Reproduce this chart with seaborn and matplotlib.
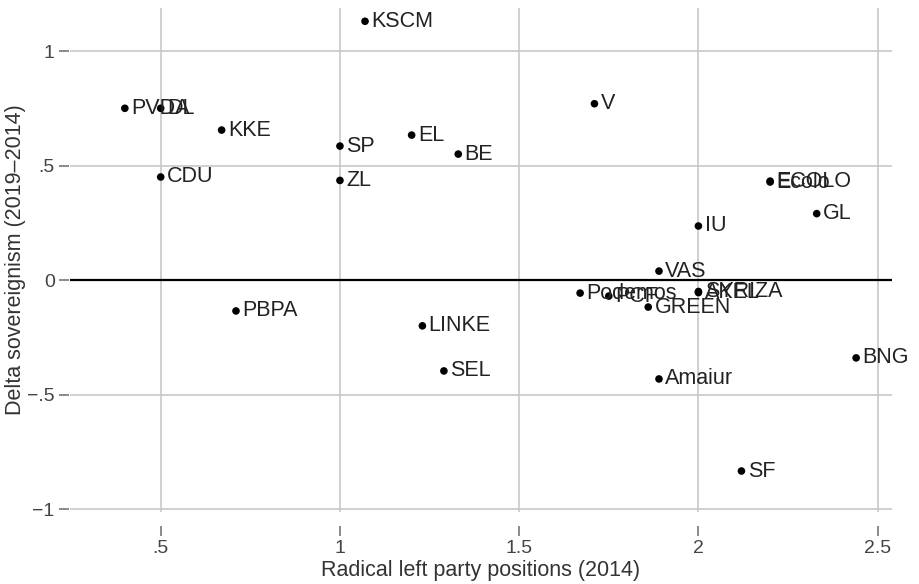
import matplotlib
matplotlib.use("Agg")
import matplotlib.pyplot as plt
import seaborn as sns
import pandas as pd

parties = ["KSCM", "PVDA", "DL", "KKE", "CDU", "SP", "ZL", "EL", "BE", "V",
           "ECOLO", "Ecolo", "GL", "IU", "VAS", "Podemos", "PCF", "GREEN",
           "SYRIZA", "AKEL", "PBPA", "LINKE", "SEL", "Amaiur", "BNG", "SF"]
position = [1.07, 0.40, 0.50, 0.67, 0.50, 1.00, 1.00, 1.20, 1.33, 1.71,
            2.20, 2.20, 2.33, 2.00, 1.89, 1.67, 1.75, 1.86,
            2.00, 2.00, 0.71, 1.23, 1.29, 1.89, 2.44, 2.12]
delta = [1.13, 0.75, 0.75, 0.655, 0.45, 0.585, 0.435, 0.633, 0.55, 0.77,
         0.432, 0.428, 0.29, 0.236, 0.039, -0.057, -0.07, -0.118,
         -0.05, -0.055, -0.135, -0.2, -0.397, -0.432, -0.34, -0.834]

xticks = [0.5, 1, 1.5, 2, 2.5]
xticklabels = [".5", "1", "1.5", "2", "2.5"]
yticks = [-1, -0.5, 0, 0.5, 1]
yticklabels = ["\u22121", "\u2212.5", "0", ".5", "1"]

df = pd.DataFrame({"party": parties, "pos": position, "delta": delta})

sns.set_style("white")
plt.rcParams["font.family"] = ["Liberation Sans", "DejaVu Sans"]

fig = plt.figure(figsize=(9.2, 5.84), dpi=100)
ax = fig.add_axes([70/920, 1-512/584, 822/920, 504/584])

for xv in xticks:
    ax.axvline(xv, color="#c8c8c8", lw=1.2, zorder=0)
for yv in yticks:
    ax.axhline(yv, color="#c8c8c8", lw=1.2, zorder=0)
ax.axhline(0, color="black", lw=1.6, zorder=1)

sns.scatterplot(data=df, x="pos", y="delta", color="black", s=30,
                edgecolor="none", ax=ax, zorder=3)
for p, xv, yv in zip(parties, position, delta):
    ax.annotate(p, (xv, yv), xytext=(4.5, 0), textcoords="offset points",
                va="center", ha="left", fontsize=15.5, color="#222222")

ax.set_xlim(0.247, 2.54)
ax.set_ylim(-1.013, 1.188)
ax.set_xticks(xticks)
ax.set_xticklabels(xticklabels)
ax.set_yticks(yticks)
ax.set_yticklabels(yticklabels)
ax.tick_params(axis="both", direction="out", length=7, width=1.2,
               color="#777777", labelsize=14, labelcolor="#444444",
               bottom=True, left=True, pad=3)
ax.spines["bottom"].set_position(("outward", 10))
ax.spines["left"].set_position(("outward", 1))
for s in ax.spines.values():
    s.set_visible(False)
ax.set_xlabel("Radical left party positions (2014)", fontsize=15.5,
              color="#333333", labelpad=2)
ax.set_ylabel("Delta sovereignism (2019\u20132014)", fontsize=15.5,
              color="#333333", labelpad=1)

fig.savefig("out.png", dpi=100)
